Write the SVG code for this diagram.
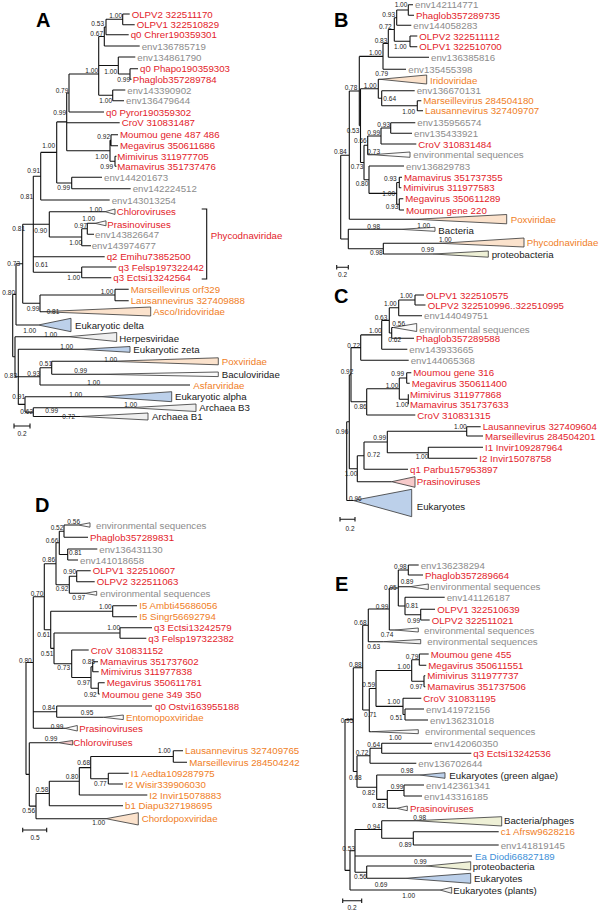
<svg xmlns="http://www.w3.org/2000/svg" width="600" height="911" viewBox="0 0 600 911">
<style>
text{font-family:"Liberation Sans",Arial,sans-serif}
.t{font-size:9.7px;dominant-baseline:central}
.r{fill:#e3222a}.g{fill:#8c8c8c}.o{fill:#f07e26}.k{fill:#1a1a1a}.b{fill:#3d8fd8}
.bs{font-size:6.5px;fill:#222;text-anchor:end;dominant-baseline:central}
.sc{font-size:6.5px;fill:#222;text-anchor:middle;dominant-baseline:central}
.tree{fill:none;stroke:#111;stroke-width:1.1}
.tri{stroke:#333;stroke-width:0.8}
.peach{fill:#fbe2cc}.blue{fill:#bcd0ea}.grey{fill:#efefef}.pink{fill:#f7caca}.yel{fill:#eef0d6}.wh{fill:#fafafa}
.lbl{font-size:20px;font-weight:bold;fill:#000}
</style>
<rect width="600" height="911" fill="#fff"/>

<!-- connectors -->
<g id="connectors" class="tree">
<path id="treeA" d="M122.7,14V24.7M122.7,14H129.7M122.7,24.7H134.7
M106,19.3V34.7M106,19.3H122.7M106,34.7H128.7
M104.3,27V46M104.3,27H106M104.3,46H139.7
M98.7,36.5V95.3M98.7,36.5H104.3M98.7,65.5H118.3M98.7,95.3H112.7
M118.3,57V74M118.3,57H135.3M118.3,74H130
M130,68.7V79.3M130,68.7H138M130,79.3H131.5
M112.7,90V100.7M112.7,90H125.3M112.7,100.7H124
M69,74V112M69,74H98.7M69,112H104
M66.7,93V150.7M66.7,93H69M66.7,122.7H119.7M66.7,150.7H110
M110,140.2V161.3M110,140.2H111M110,161.3H115
M111,134.7V145.7M111,134.7H118M111,145.7H118
M115,156.3V166.3M115,156.3H116.5M115,166.3H116.5
M56.7,121.9V183M56.7,121.9H66.7M56.7,183H71.7
M71.7,177.3V188.7M71.7,177.3H102M71.7,188.7H130.7
M40.7,152.4V200M40.7,152.4H56.7M40.7,200H109.7
M33.3,176.2V272.3M33.3,176.2H40.7M33.3,224.3H49.3M33.3,256.7H104.7M33.3,272.3H81.7
M49.3,211.7V237M49.3,211.7H105M49.3,237H81.7
M81.7,228.8V245.7M81.7,228.8H87.3M81.7,245.7H91
M87.3,223.3V234.3M87.3,223.3H95M87.3,234.3H94
M81.7,267V277.7M81.7,267H116.3M81.7,277.7H111.3
M22.7,224.3V303.3M22.7,224.3H33.3M22.7,303.3H40
M40,295V311.7M40,295H115M40,311.7H42
M115,289.3V300.7M115,289.3H128.7M115,300.7H128.7
M16,263.8V325M16,263.8H22.7M16,325H38.3
M12.7,294.4V356.7M12.7,294.4H16M12.7,356.7H15
M15,336.7V376.7M15,336.7H68M15,376.7H18.3
M18.3,349.3V404.4M18.3,349.3H80M18.3,376.7H40M18.3,404.4H25
M40,367.8V385M40,367.8H51.7M40,385H190
M51.7,361.3V374.3M51.7,361.3H110M51.7,374.3H100
M25,396.7V412.1M25,396.7H100M25,412.1H33.3
M33.3,407.7V416.5M33.3,407.7H130M33.3,416.5H80
M201.7,209H206.7V279H201.7"/>
<path id="treeB" d="M408.3,4.7V15.3M408.3,4.7H413M408.3,15.3H414
M396.7,10V25.3M396.7,10H408.3M396.7,25.3H411.3
M410,36V46.7M410,36H417.3M410,46.7H417.3
M394.3,17.7V41.3M394.3,17.7H396.7M394.3,41.3H410
M388.3,29.5V57.3M388.3,29.5H394.3M388.3,57.3H429
M383,43.4V69.3M383,43.4H388.3M383,69.3H406
M378.3,79.3V98.2M378.3,79.3H380M378.3,98.2H381.7
M381.7,90.7V105.7M381.7,90.7H414.7M381.7,105.7H417.3
M417.3,100.7V110.7M417.3,100.7H421.3M417.3,110.7H423
M359.3,56.4V125.6M359.3,56.4H383M359.3,125.6H360.5
M360.5,88.8V162.5M360.5,88.8H378.3M360.5,162.5H364
M364,145.3V179.7M364,145.3H367.7M364,179.7H369
M367.7,136V154.7M367.7,136H381M367.7,154.7H372
M381,128V144M381,128H390.7M381,144H416.3
M390.7,122.7V133.3M390.7,122.7H415.3M390.7,133.3H412
M369,166V193.4M369,166H404M369,193.4H396.7
M396.7,182.5V204.3M396.7,182.5H399.3M396.7,204.3H399.3
M399.3,177.3V187.7M399.3,177.3H402M399.3,187.7H401.3
M399.3,198.7V210M399.3,198.7H403.3M399.3,210H404
M349.3,91V219.3M349.3,91H359.3M349.3,219.3H415
M340.7,155.2V239M340.7,155.2H349.3M340.7,239H348.3
M348.3,229.3V248.7M348.3,229.3H400M348.3,248.7H383.3
M383.3,243.3V254M383.3,243.3H440M383.3,254H433"/>
<path id="treeC" d="M415,295V305M415,295H424M415,305H425.5
M398.7,300V315.7M398.7,300H415M398.7,315.7H422
M391.7,327.5V338.3M391.7,327.5H393.3M391.7,338.3H414
M389.3,307.8V333M389.3,307.8H398.7M389.3,333H391.7
M381.7,320.4V349.3M381.7,320.4H389.3M381.7,349.3H407.3
M360.7,334.9V360.3M360.7,334.9H381.7M360.7,360.3H408.7
M406.7,372.7V383.3M406.7,372.7H411.3M406.7,383.3H409.7
M408.3,394.3V404.3
M399.3,378V399.3M399.3,378H406.7M399.3,399.3H408.3
M366.7,388.7V415M366.7,388.7H399.3M366.7,415H415.3
M351,347.6V401.8M351,347.6H360.7M351,401.8H366.7
M466.7,426.7V436M466.7,426.7H480.7M466.7,436H483
M428.3,447.3V458.3M428.3,447.3H483M428.3,458.3H477.3
M387.3,431.3V452.8M387.3,431.3H466.7M387.3,452.8H428.3
M364,442V469.3M364,442H387.3M364,469.3H408
M357.3,455.7V481.7M357.3,455.7H364M357.3,481.7H391.7
M349.3,374.7V468.7M349.3,374.7H351M349.3,468.7H357.3
M346.7,421.7V500.5M346.7,421.7H349.3M346.7,500.5H353.3"/>
<path id="treeD" d="M64,525V537.3M64,525H78.3M64,537.3H88
M67.7,549V560M67.7,549H97.3M67.7,560H78
M59.3,531.2V554.5M59.3,531.2H64M59.3,554.5H67.7
M76.7,570.7V581.7M76.7,570.7H90.7M76.7,581.7H94.7
M69.3,576.2V593.3M69.3,576.2H76.7M69.3,593.3H85
M56,542.8V584.8M56,542.8H59.3M56,584.8H69.3
M112.7,605.7V616.7M112.7,605.7H137M112.7,616.7H137
M120,627.7V638.3M120,627.7H152M120,638.3H146.3
M92.7,661.7V671.7M92.7,661.7H98M92.7,671.7H98.7
M98.3,682.7V694M98.3,682.7H104.7M98.3,694H99.7
M91,666.7V688.3M91,666.7H92.7M91,688.3H98.3
M71.7,650V677.5M71.7,650H88.7M71.7,677.5H91
M54,633V663.8M54,633H120M54,663.8H71.7
M50.7,611.2V648.4M50.7,611.2H112.7M50.7,648.4H54
M44.3,563.8V629.8M44.3,563.8H56M44.3,629.8H50.7
M56.7,706V717.3M56.7,706H152M56.7,717.3H103.3
M33.3,596.8V728.3M33.3,596.8H44.3M33.3,711.7H56.7M33.3,728.3H65
M173.3,750.7V762.3M173.3,750.7H183M173.3,762.3H187
M108.3,773.3V784M108.3,773.3H128.7M108.3,784H123
M90.7,756.5V778.7M90.7,756.5H173.3M90.7,778.7H108.3
M79.3,767.6V795M79.3,767.6H90.7M79.3,795H147.3
M49.3,781.3V805.7M49.3,781.3H79.3M49.3,805.7H123
M36,793.5V818.7M36,793.5H49.3M36,818.7H106
M29.3,742.7V806.1M29.3,742.7H58.3M29.3,806.1H36
M26,662.5V774.4M26,662.5H33.3M26,774.4H29.3"/>
<path id="treeE" d="M408.3,565V575M408.3,565H418.7M408.3,575H423
M420.7,609.3V620M420.7,609.3H435M420.7,620H429.7
M405,597.3V614.7M405,597.3H444.7M405,614.7H420.7
M398.3,570V606M398.3,570H408.3M398.3,586.7H410M398.3,606H405
M389.3,588V630M389.3,588H398.3M389.3,630H395
M368.3,609V641.7M368.3,609H389.3M368.3,641.7H383.3
M419.3,654V665.3M419.3,654H428.7M419.3,665.3H426.3
M424,675.7V686.7M424,675.7H425.3M424,686.7H425.3
M411.7,659.7V681.2M411.7,659.7H419.3M411.7,681.2H424
M405,709V720M405,709H424M405,720H428
M403,698.3V714.5M403,698.3H421.3M403,714.5H405
M376,670.5V706.4M376,670.5H411.7M376,706.4H403
M369.3,688.5V731.7M369.3,688.5H376M369.3,731.7H371.7
M362.7,625.3V710M362.7,625.3H368.3M362.7,710H369.3
M381.7,743.3V753.3M381.7,743.3H432M381.7,753.3H471.3
M370,748.3V763.3M370,748.3H381.7M370,763.3H416.3
M404,785V796M404,785H424M404,796H422
M387.3,790.5V808.3M387.3,790.5H404M387.3,808.3H396.7
M376.7,775V799.4M376.7,775H420M376.7,799.4H387.3
M357,755.8V787.2M357,755.8H370M357,787.2H376.7
M353.3,667.7V771.5M353.3,667.7H362.7M353.3,771.5H357
M413.3,831.7V845M413.3,831.7H498.7M413.3,845H498.7
M381.7,820.7V838.3M381.7,820.7H415M381.7,838.3H413.3
M366.7,866V878.3M366.7,866H426M366.7,878.3H405
M355,829.5V872.2M355,829.5H381.7M355,856H472M355,872.2H366.7
M350,850.8V890M350,850.8H355M350,890H440
M345,719.6V870.4M345,719.6H353.3M345,870.4H350"/>
<path id="scalebars" d="M14,426H30M14,423.5V428.5M30,423.5V428.5
M336.7,267.3H348.3M336.7,265V269.6M348.3,265V269.6
M340,519.3H355M340,517V521.6M355,517V521.6
M22.7,830H46.7M22.7,827.7V832.3M46.7,827.7V832.3
M342.7,900.7H361.7M342.7,898.4V903M361.7,898.4V903"/>
</g>

<!-- panel letters -->
<g id="letters">
<text class="lbl" x="36" y="27">A</text>
<text class="lbl" x="334" y="27">B</text>
<text class="lbl" x="334" y="303">C</text>
<text class="lbl" x="35" y="512">D</text>
<text class="lbl" x="335" y="591">E</text>
</g>

<!-- Panel A nodes -->
<g id="panelA">
<g id="a1"><text class="t r" x="131.7" y="14">OLPV2 322511170</text></g>
<g id="a2"><text class="t r" x="136.7" y="24.7">OLPV1 322510829</text></g>
<g id="a3"><text class="t r" x="130.7" y="34.7">q0 Chrer190359301</text></g>
<g id="a4"><text class="t g" x="141.7" y="46">env136785719</text></g>
<g id="a5"><text class="t g" x="137.3" y="57">env134861790</text></g>
<g id="a6"><text class="t r" x="140" y="68.7">q0 Phapo190359303</text></g>
<g id="a7"><text class="t r" x="132.7" y="79.3">Phaglob357289784</text></g>
<g id="a8"><text class="t g" x="127.3" y="90">env143390902</text></g>
<g id="a9"><text class="t g" x="126" y="100.7">env136479644</text></g>
<g id="a10"><text class="t r" x="106" y="112">q0 Pyror190359302</text></g>
<g id="a11"><text class="t r" x="121.7" y="122.7">CroV 310831487</text></g>
<g id="a12"><text class="t r" x="120" y="134.7">Moumou gene 487 486</text></g>
<g id="a13"><text class="t r" x="120" y="145.7">Megavirus 350611686</text></g>
<g id="a14"><text class="t r" x="117.3" y="156.3">Mimivirus 311977705</text></g>
<g id="a15"><text class="t r" x="117.3" y="166.3">Mamavirus 351737476</text></g>
<g id="a16"><text class="t g" x="104" y="177.3">env144201673</text></g>
<g id="a17"><text class="t g" x="132.7" y="188.7">env142224512</text></g>
<g id="a18"><text class="t g" x="111.7" y="200">env143013254</text></g>
<g id="a19"><polygon class="tri wh" points="105,211.7 115,209 115,214.4"/><text class="t r" x="116.7" y="211.7">Chloroviruses</text></g>
<g id="a20"><polygon class="tri wh" points="95,223.3 106,220.8 106,225.8"/><text class="t r" x="107.3" y="224">Prasinoviruses</text></g>
<g id="a21"><text class="t g" x="95" y="234.3">env143826647</text></g>
<g id="a22"><text class="t g" x="91.7" y="245.7">env143974677</text></g>
<g id="a23"><text class="t r" x="106.7" y="256.7">q2 Emihu73852500</text></g>
<g id="a24"><text class="t r" x="118.3" y="267">q3 Felsp197322442</text></g>
<g id="a25"><text class="t r" x="113.3" y="277.7">q3 Ectsi13242564</text></g>
<g id="a26"><text class="t r" x="210.7" y="235.7">Phycodnaviridae</text></g>
<g id="a27"><text class="t o" x="130.7" y="289.3">Marseillevirus orf329</text></g>
<g id="a28"><text class="t o" x="130.7" y="300.7">Lausannevirus 327409888</text></g>
<g id="a29"><polygon class="tri peach" points="42,311.7 150.7,307 150.7,316"/><text class="t o" x="153.3" y="311.7">Asco/Iridoviridae</text></g>
<g id="a30"><polygon class="tri blue" points="38.3,325 71,318.3 71,331.7"/><text class="t k" x="75" y="325.7">Eukaryotic delta</text></g>
<g id="a31"><polygon class="tri grey" points="68,336.7 116.7,332.5 116.7,341.5"/><text class="t k" x="119.3" y="338.3">Herpesviridae</text></g>
<g id="a32"><polygon class="tri blue" points="80,349.3 130,346.5 130,352.3"/><text class="t k" x="133.3" y="349.3">Eukaryotic zeta</text></g>
<g id="a33"><polygon class="tri peach" points="110,361.3 218.3,357.8 218.3,364.8"/><text class="t o" x="221.7" y="361">Poxviridae</text></g>
<g id="a34"><polygon class="tri wh" points="100,374.3 218.3,372 218.3,376.6"/><text class="t k" x="221.7" y="374">Baculoviridae</text></g>
<g id="a35"><text class="t o" x="193.3" y="385.7">Asfarviridae</text></g>
<g id="a36"><polygon class="tri blue" points="100,396.7 171.7,391.7 171.7,401.7"/><text class="t k" x="175" y="396.7">Eukaryotic alpha</text></g>
<g id="a37"><polygon class="tri grey" points="130,407.7 196,404 196,411.5"/><text class="t k" x="199.3" y="407.7">Archaea B3</text></g>
<g id="a38"><polygon class="tri grey" points="80,416.5 148,413 148,420"/><text class="t k" x="152" y="416.5">Archaea B1</text></g>
<g id="a-support">
<text class="bs" x="122" y="15">1.00</text><text class="bs" x="104" y="23.5">0.53</text><text class="bs" x="103" y="33.5">0.67</text>
<text class="bs" x="98" y="70">1.00</text><text class="bs" x="117" y="71.7">1.00</text><text class="bs" x="130" y="79">0.99</text>
<text class="bs" x="112" y="100">1.00</text><text class="bs" x="68.3" y="90">0.79</text><text class="bs" x="66" y="112">0.99</text>
<text class="bs" x="110" y="136">0.92</text><text class="bs" x="55" y="145.7">1.00</text><text class="bs" x="108" y="156">1.00</text>
<text class="bs" x="113" y="166">0.99</text><text class="bs" x="40" y="170">0.91</text><text class="bs" x="70" y="187">0.99</text>
<text class="bs" x="33" y="196">0.81</text><text class="bs" x="102" y="209">1.00</text><text class="bs" x="95" y="218.3">1.00</text>
<text class="bs" x="87" y="225.7">0.97</text><text class="bs" x="47" y="230">0.90</text><text class="bs" x="82" y="242.3">1.00</text>
<text class="bs" x="25" y="228.3">0.81</text><text class="bs" x="20" y="263">0.73</text><text class="bs" x="48" y="264.7">0.61</text>
<text class="bs" x="80" y="277.7">1.00</text><text class="bs" x="15" y="292">0.80</text><text class="bs" x="113.3" y="291">1.00</text>
<text class="bs" x="39.3" y="308">0.99</text><text class="bs" x="59.3" y="311">0.81</text><text class="bs" x="36" y="330">1.00</text>
<text class="bs" x="57" y="334.3">1.00</text><text class="bs" x="73" y="346">1.00</text><text class="bs" x="117" y="359">1.00</text>
<text class="bs" x="52" y="363.3">0.51</text><text class="bs" x="87" y="370">0.99</text><text class="bs" x="40" y="373">0.93</text>
<text class="bs" x="17" y="375">0.83</text><text class="bs" x="100" y="382">1.00</text><text class="bs" x="25" y="396">0.91</text>
<text class="bs" x="82" y="394">1.00</text><text class="bs" x="137" y="404">1.00</text><text class="bs" x="33" y="411">0.62</text>
<text class="bs" x="58" y="410">0.99</text><text class="bs" x="75" y="416">0.72</text>
<text class="sc" x="22" y="433">0.2</text>
</g>
</g>

<!-- Panel B nodes -->
<g id="panelB">
<g id="b1"><text class="t g" x="415" y="4.7">env142114771</text></g>
<g id="b2"><text class="t r" x="416" y="15.3">Phaglob357289735</text></g>
<g id="b3"><text class="t g" x="413.3" y="25.3">env144058283</text></g>
<g id="b4"><text class="t r" x="419.3" y="36">OLPV2 322511112</text></g>
<g id="b5"><text class="t r" x="419.3" y="46.7">OLPV1 322510700</text></g>
<g id="b6"><text class="t g" x="431" y="57.3">env136385816</text></g>
<g id="b7"><text class="t g" x="408.3" y="69.3">env135455398</text></g>
<g id="b8"><polygon class="tri peach" points="380,79.3 426.7,75 426.7,84"/><text class="t o" x="430" y="80">Iridoviridae</text></g>
<g id="b9"><text class="t g" x="416.7" y="90.7">env136670131</text></g>
<g id="b10"><text class="t o" x="423.3" y="100.7">Marseillevirus 284504180</text></g>
<g id="b11"><text class="t o" x="425" y="110.7">Lausannevirus 327409707</text></g>
<g id="b12"><text class="t g" x="417.3" y="122.7">env135956574</text></g>
<g id="b13"><text class="t g" x="414" y="133.3">env135433921</text></g>
<g id="b14"><text class="t r" x="418.3" y="144">CroV  310831484</text></g>
<g id="b15"><polygon class="tri wh" points="372,154.7 410,152 410,157.3"/><text class="t g" x="413.3" y="154.7">environmental sequences</text></g>
<g id="b16"><text class="t g" x="406" y="166">env136829783</text></g>
<g id="b17"><text class="t r" x="404" y="177.3">Mamavirus 351737355</text></g>
<g id="b18"><text class="t r" x="403.3" y="187.7">Mimivirus 311977583</text></g>
<g id="b19"><text class="t r" x="405.3" y="198.7">Megavirus 350611289</text></g>
<g id="b20"><text class="t r" x="406" y="210">Moumou gene 220</text></g>
<g id="b21"><polygon class="tri peach" points="415,219.3 506.7,214.5 506.7,223.8"/><text class="t o" x="510.7" y="219">Poxviridae</text></g>
<g id="b22"><polygon class="tri wh" points="400,229.3 435,227.3 435,231.3"/><text class="t k" x="438.3" y="230">Bacteria</text></g>
<g id="b23"><polygon class="tri peach" points="440,243.3 524,238 524,247"/><text class="t o" x="526.7" y="242">Phycodnaviridae</text></g>
<g id="b24"><polygon class="tri yel" points="433,254 488.3,251 488.3,257.2"/><text class="t k" x="491.7" y="254">proteobacteria</text></g>
<g id="b-support">
<text class="bs" x="407.3" y="4.7">1.00</text><text class="bs" x="395" y="14">0.93</text><text class="bs" x="391.7" y="26">0.72</text>
<text class="bs" x="387.3" y="40.7">0.83</text><text class="bs" x="406.7" y="46.7">1.00</text><text class="bs" x="381.7" y="52.3">1.00</text>
<text class="bs" x="388" y="73.5">0.79</text><text class="bs" x="376.5" y="85">1.00</text><text class="bs" x="357.3" y="87.3">0.78</text>
<text class="bs" x="396" y="98.7">0.64</text><text class="bs" x="415" y="111.7">1.00</text><text class="bs" x="390" y="124">0.93</text>
<text class="bs" x="380" y="132.7">0.99</text><text class="bs" x="359.3" y="130.7">0.53</text><text class="bs" x="366.7" y="140">0.66</text>
<text class="bs" x="380" y="151.7">0.73</text><text class="bs" x="346.7" y="151.7">0.84</text><text class="bs" x="363.3" y="166">0.73</text>
<text class="bs" x="396.7" y="178.3">0.93</text><text class="bs" x="368.3" y="183.3">0.80</text><text class="bs" x="395" y="193.3">1.00</text>
<text class="bs" x="398.3" y="206.7">0.93</text><text class="bs" x="380" y="226.7">0.98</text><text class="bs" x="430" y="225">1.00</text>
<text class="bs" x="451.7" y="239.3">1.00</text><text class="bs" x="434" y="249.3">0.99</text><text class="bs" x="382.7" y="252.7">0.98</text>
<text class="sc" x="342.5" y="274.5">0.2</text>
</g>
</g>

<!-- Panel C nodes -->
<g id="panelC">
<g id="c1"><text class="t r" x="426" y="295">OLPV1 322510575</text></g>
<g id="c2"><text class="t r" x="427.7" y="305">OLPV2 322510996..322510995</text></g>
<g id="c3"><text class="t g" x="424" y="315.7">env144049751</text></g>
<g id="c4"><polygon class="tri wh" points="393.3,327.5 416.7,323.5 416.7,331.5"/><text class="t g" x="419.3" y="329">environmental sequences</text></g>
<g id="c5"><text class="t r" x="416" y="338.3">Phaglob357289588</text></g>
<g id="c6"><text class="t g" x="409.3" y="349.3">env143933665</text></g>
<g id="c7"><text class="t g" x="410.7" y="360.3">env144065368</text></g>
<g id="c8"><text class="t r" x="413.3" y="372.7">Moumou gene 316</text></g>
<g id="c9"><text class="t r" x="411.7" y="383.3">Megavirus 350611400</text></g>
<g id="c10"><text class="t r" x="410" y="394.3">Mimivirus 311977868</text></g>
<g id="c11"><text class="t r" x="410" y="404.3">Mamavirus 351737633</text></g>
<g id="c12"><text class="t r" x="417.3" y="415">CroV  310831315</text></g>
<g id="c13"><text class="t r" x="482.7" y="426.7">Lausannevirus 327409604</text></g>
<g id="c14"><text class="t r" x="485" y="436">Marseillevirus 284504201</text></g>
<g id="c15"><text class="t r" x="485" y="447.3">I1 Invir109287964</text></g>
<g id="c16"><text class="t r" x="479.3" y="458.3">I2 Invir15078758</text></g>
<g id="c17"><text class="t r" x="410" y="469.3">q1 Parbu157953897</text></g>
<g id="c18"><polygon class="tri pink" points="391.7,481.7 415,476.7 415,487.3"/><text class="t r" x="416.7" y="481.7">Prasinoviruses</text></g>
<g id="c19"><polygon class="tri blue" points="353.3,500.5 411.7,489.3 411.7,516.7"/><text class="t k" x="416.7" y="506">Eukaryotes</text></g>
<g id="c-support">
<text class="bs" x="412.7" y="295">1.00</text><text class="bs" x="396.7" y="303.3">1.00</text><text class="bs" x="387.3" y="317.7">0.63</text>
<text class="bs" x="405" y="323.3">0.56</text><text class="bs" x="381.7" y="330">1.00</text><text class="bs" x="401" y="339">0.62</text>
<text class="bs" x="360" y="345">0.72</text><text class="bs" x="353.3" y="371.7">0.92</text><text class="bs" x="404" y="373.3">0.99</text>
<text class="bs" x="398.3" y="385">1.00</text><text class="bs" x="408.3" y="404.3">1.00</text><text class="bs" x="366.7" y="406.7">0.86</text>
<text class="bs" x="466.7" y="426.7">1.00</text><text class="bs" x="348.3" y="431">0.96</text><text class="bs" x="386" y="437.3">0.99</text>
<text class="bs" x="380" y="454">0.72</text><text class="bs" x="428.3" y="456.7">1.00</text><text class="bs" x="357.3" y="473.3">1.00</text>
<text class="bs" x="361.7" y="498.3">0.96</text>
<text class="sc" x="350" y="528">0.2</text>
</g>
</g>

<!-- Panel D nodes -->
<g id="panelD">
<g id="d1"><polygon class="tri wh" points="78.3,525 90,522.8 90,527.2"/><text class="t g" x="96" y="525">environmental sequences</text></g>
<g id="d2"><text class="t r" x="90" y="537.3">Phaglob357289831</text></g>
<g id="d3"><text class="t g" x="99.3" y="549">env136431130</text></g>
<g id="d4"><text class="t g" x="80" y="560">env141018658</text></g>
<g id="d5"><text class="t r" x="92.7" y="570.7">OLPV1 322510607</text></g>
<g id="d6"><text class="t r" x="96.7" y="581.7">OLPV2 322511063</text></g>
<g id="d7"><polygon class="tri wh" points="85,593.3 96.7,591.3 96.7,595.3"/><text class="t g" x="100" y="593.3">environmental sequences</text></g>
<g id="d8"><text class="t o" x="139.3" y="605.7">I5 Ambti45686056</text></g>
<g id="d9"><text class="t o" x="139.3" y="616.7">I5 Singr56692794</text></g>
<g id="d10"><text class="t r" x="154" y="627.7">q3 Ectsi13242579</text></g>
<g id="d11"><text class="t r" x="148.3" y="638.3">q3 Felsp197322382</text></g>
<g id="d12"><text class="t r" x="90.7" y="650">CroV 310831152</text></g>
<g id="d13"><text class="t r" x="100" y="661.7">Mamavirus 351737602</text></g>
<g id="d14"><text class="t r" x="100.7" y="671.7">Mimivirus 311977838</text></g>
<g id="d15"><text class="t r" x="106.7" y="682.7">Megavirus 350611781</text></g>
<g id="d16"><text class="t r" x="101.7" y="694">Moumou gene 349 350</text></g>
<g id="d17"><text class="t r" x="155" y="706">q0 Ostvi163955188</text></g>
<g id="d18"><polygon class="tri wh" points="103.3,717.3 123.3,715 123.3,719.6"/><text class="t o" x="126" y="717.3">Entomopoxviridae</text></g>
<g id="d19"><polygon class="tri wh" points="65,728.3 77.3,725.5 77.3,731"/><text class="t r" x="79.3" y="728.3">Prasinoviruses</text></g>
<g id="d20"><polygon class="tri pink" points="58.3,742.7 72.7,740.5 72.7,745"/><text class="t r" x="73.3" y="742.7">Chloroviruses</text></g>
<g id="d21"><text class="t o" x="185" y="750.7">Lausannevirus 327409765</text></g>
<g id="d22"><text class="t o" x="189.3" y="762.3">Marseillevirus 284504242</text></g>
<g id="d23"><text class="t o" x="130.7" y="773.3">I1 Aedta109287975</text></g>
<g id="d24"><text class="t o" x="125" y="784">I2 Wisir339906030</text></g>
<g id="d25"><text class="t o" x="149.3" y="795">I2 Invir15078883</text></g>
<g id="d26"><text class="t o" x="125" y="805.7">b1 Diapu327198695</text></g>
<g id="d27"><polygon class="tri peach" points="106,818.7 138.3,812.7 138.3,825"/><text class="t o" x="141.7" y="818.7">Chordopoxviridae</text></g>
<g id="d-support">
<text class="bs" x="80" y="521.7">0.56</text><text class="bs" x="63.3" y="527.3">0.52</text><text class="bs" x="58.3" y="540">0.66</text>
<text class="bs" x="81.7" y="552.3">0.81</text><text class="bs" x="55" y="559">0.86</text><text class="bs" x="76" y="571.7">0.90</text>
<text class="bs" x="68.3" y="588.3">0.92</text><text class="bs" x="43.3" y="593.3">0.70</text><text class="bs" x="85" y="597.7">0.97</text>
<text class="bs" x="111.7" y="606.7">1.00</text><text class="bs" x="120" y="627.7">1.00</text><text class="bs" x="50" y="634">0.61</text>
<text class="bs" x="53.3" y="653.3">0.51</text><text class="bs" x="31.7" y="660">0.80</text><text class="bs" x="95" y="661.7">0.85</text>
<text class="bs" x="70" y="667.7">0.73</text><text class="bs" x="90" y="682.7">0.97</text><text class="bs" x="96.7" y="694">0.92</text>
<text class="bs" x="55" y="707.3">0.84</text><text class="bs" x="93.3" y="712.7">0.95</text><text class="bs" x="63.3" y="726">0.99</text>
<text class="bs" x="57.3" y="738.3">0.99</text><text class="bs" x="170.7" y="750.7">1.00</text><text class="bs" x="90" y="762.7">0.68</text>
<text class="bs" x="78.3" y="776">0.80</text><text class="bs" x="106.7" y="783.3">0.77</text><text class="bs" x="48.3" y="789.3">0.58</text>
<text class="bs" x="35" y="810">0.56</text><text class="bs" x="105" y="822.7">1.00</text>
<text class="sc" x="35" y="837.3">0.5</text>
</g>
</g>

<!-- Panel E nodes -->
<g id="panelE">
<g id="e1"><text class="t g" x="420.7" y="565">env136238294</text></g>
<g id="e2"><text class="t r" x="425" y="575">Phaglob357289664</text></g>
<g id="e3"><polygon class="tri wh" points="410,586.7 428.3,584 428.3,589.5"/><text class="t g" x="430" y="586.7">environmental sequences</text></g>
<g id="e4"><text class="t g" x="446.7" y="597.3">env141126187</text></g>
<g id="e5"><text class="t r" x="437.3" y="609.3">OLPV1 322510639</text></g>
<g id="e6"><text class="t r" x="431.7" y="620">OLPV2 322511021</text></g>
<g id="e7"><polygon class="tri wh" points="395,630 418.3,628 418.3,632"/><text class="t g" x="424" y="630">environmental sequences</text></g>
<g id="e8"><polygon class="tri grey" points="383.3,641.7 420.7,639.5 420.7,643.8"/><text class="t g" x="427.3" y="641.7">environmental sequences</text></g>
<g id="e9"><text class="t r" x="430.7" y="654">Moumou gene 455</text></g>
<g id="e10"><text class="t r" x="428.3" y="665.3">Megavirus 350611551</text></g>
<g id="e11"><text class="t r" x="427.3" y="675.7">Mimivirus 311977737</text></g>
<g id="e12"><text class="t r" x="427.3" y="686.7">Mamavirus 351737506</text></g>
<g id="e13"><text class="t r" x="423.3" y="698.3">CroV 310831195</text></g>
<g id="e14"><text class="t g" x="426" y="709">env141972156</text></g>
<g id="e15"><text class="t g" x="430" y="720">env136231018</text></g>
<g id="e16"><polygon class="tri wh" points="371.7,731.7 418.3,729.7 418.3,733.7"/><text class="t g" x="425" y="731.7">environmental sequences</text></g>
<g id="e17"><text class="t g" x="434" y="743.3">env142060350</text></g>
<g id="e18"><text class="t r" x="473.3" y="753.3">q3 Ectsi13242536</text></g>
<g id="e19"><text class="t g" x="418.3" y="763.3">env136702644</text></g>
<g id="e20"><polygon class="tri blue" points="420,775 445,772.7 445,778.3"/><text class="t k" x="449.3" y="775">Eukaryotes (green algae)</text></g>
<g id="e21"><text class="t g" x="426" y="785">env142361341</text></g>
<g id="e22"><text class="t g" x="424" y="796">env143316185</text></g>
<g id="e23"><polygon class="tri wh" points="396.7,808.3 407.3,806 407.3,810.7"/><text class="t r" x="410" y="808.3">Prasinoviruses</text></g>
<g id="e24"><polygon class="tri yel" points="415,820.7 501.7,816.7 501.7,826"/><text class="t k" x="504" y="820.7">Bacteria/phages</text></g>
<g id="e25"><text class="t o" x="500.7" y="831.7">c1 Afrsw9628216</text></g>
<g id="e26"><text class="t g" x="500.7" y="845">env141819145</text></g>
<g id="e27"><text class="t b" x="475" y="856">Ea Diodi66827189</text></g>
<g id="e28"><polygon class="tri yel" points="426,866 470.7,861.7 470.7,870"/><text class="t k" x="472.7" y="866">proteobacteria</text></g>
<g id="e29"><polygon class="tri blue" points="405,878.3 470.7,873.3 470.7,883.3"/><text class="t k" x="474" y="878.3">Eukaryotes</text></g>
<g id="e30"><polygon class="tri grey" points="440,890 451.7,887.3 451.7,893.3"/><text class="t k" x="453.3" y="890">Eukaryotes (plants)</text></g>
<g id="e-support">
<text class="bs" x="406.7" y="566.7">0.98</text><text class="bs" x="413.3" y="581.7">0.89</text><text class="bs" x="396.7" y="587.3">0.95</text>
<text class="bs" x="418.3" y="605">0.81</text><text class="bs" x="388.3" y="606.7">0.99</text><text class="bs" x="420" y="620">0.99</text>
<text class="bs" x="366.7" y="622.7">0.68</text><text class="bs" x="393.3" y="634">0.74</text><text class="bs" x="380" y="646">0.63</text>
<text class="bs" x="418.3" y="656">0.79</text><text class="bs" x="361.7" y="664">0.88</text><text class="bs" x="410" y="666.7">1.00</text>
<text class="bs" x="375" y="684">0.59</text><text class="bs" x="422.7" y="686">0.97</text><text class="bs" x="400" y="701.7">1.00</text>
<text class="bs" x="376.7" y="714">0.71</text><text class="bs" x="402.7" y="717.3">0.51</text><text class="bs" x="353.3" y="720.7">0.95</text>
<text class="bs" x="401.7" y="737.3">1.00</text><text class="bs" x="380" y="744">0.64</text><text class="bs" x="368.3" y="752.7">0.72</text>
<text class="bs" x="413.3" y="770.7">0.98</text><text class="bs" x="361.7" y="777.3">0.68</text><text class="bs" x="403.3" y="786.7">0.99</text>
<text class="bs" x="375" y="792.7">0.82</text><text class="bs" x="385" y="805">0.82</text><text class="bs" x="426" y="817.3">0.98</text>
<text class="bs" x="380" y="826.7">0.94</text><text class="bs" x="411.7" y="844">0.89</text><text class="bs" x="355" y="848.3">0.53</text>
<text class="bs" x="426.7" y="861.7">0.99</text><text class="bs" x="366.7" y="876.7">0.56</text><text class="bs" x="387.3" y="884">0.69</text>
<text class="bs" x="415" y="895">1.00</text>
<text class="sc" x="352" y="907.3">0.2</text>
</g>
</g>
</svg>
